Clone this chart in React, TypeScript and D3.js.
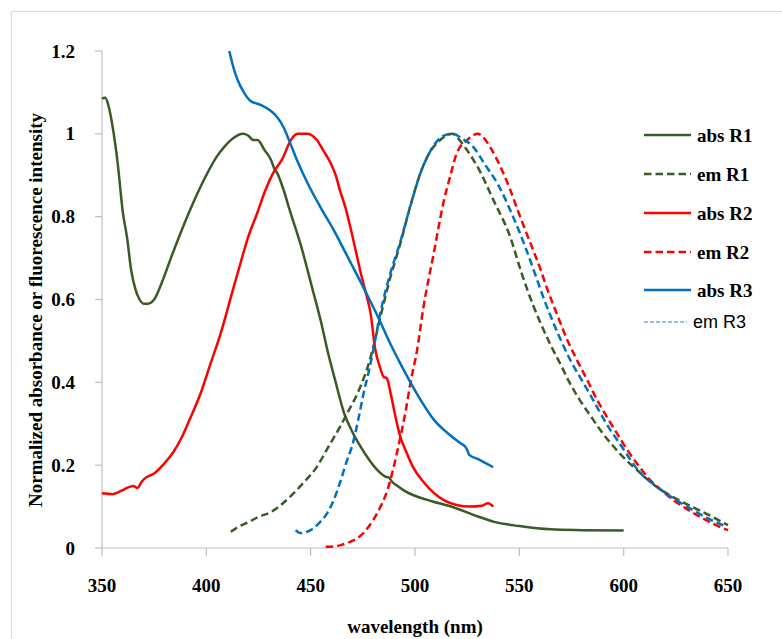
import React from 'react';
import * as d3 from 'd3';

// wavelength (nm), normalized value
const absR1: [number, number][] = [
  [350, 1.085], [351.5, 1.087], [353, 1.07], [355, 1.02], [357.5, 0.93], [360, 0.81], [362, 0.75],
  [364, 0.67], [366, 0.625], [368, 0.6], [370, 0.59], [372, 0.59], [375, 0.6], [379, 0.645],
  [383, 0.7], [388, 0.765], [392.5, 0.82], [397, 0.87], [401, 0.91], [405, 0.945], [408.5, 0.968],
  [413, 0.99], [417.5, 1.0], [420, 0.996], [422.5, 0.985], [424.5, 0.985], [428, 0.96], [431, 0.937],
  [432.5, 0.917], [434, 0.905], [437, 0.865], [440, 0.815], [445, 0.736], [451.4, 0.615], [455, 0.545],
  [458, 0.478], [462, 0.4], [466, 0.326], [470, 0.28], [474, 0.244], [478, 0.213], [482, 0.188],
  [486, 0.172], [487.5, 0.17], [489, 0.16], [491, 0.152], [495, 0.138], [499, 0.128], [508, 0.113],
  [518, 0.099], [528, 0.08], [538, 0.063], [550, 0.053], [565, 0.045], [580, 0.043], [600, 0.042],
];

const emR1: [number, number][] = [
  [411.7, 0.039], [415, 0.05], [420, 0.062], [425, 0.075], [431, 0.087], [436, 0.105], [442, 0.133],
  [447, 0.16], [453, 0.196], [458, 0.24], [464, 0.292], [468, 0.33], [472.5, 0.374], [478.7, 0.46],
  [483.5, 0.56], [488, 0.65], [493, 0.736], [498, 0.83], [502.6, 0.905], [507, 0.955], [511, 0.98],
  [515.5, 0.997], [518, 1.0], [520, 0.992], [525, 0.96], [530, 0.92], [537.6, 0.84], [545.7, 0.75],
  [551, 0.665], [556.7, 0.585], [560, 0.545], [565, 0.49], [569.6, 0.445], [574, 0.4], [579, 0.357],
  [584, 0.32], [588.8, 0.285], [598, 0.229], [608, 0.181], [616, 0.147], [627, 0.114], [640, 0.082],
  [650, 0.055],
];

const absR2: [number, number][] = [
  [350, 0.132], [355, 0.13], [358, 0.135], [360, 0.14], [362, 0.145], [365, 0.15], [367, 0.145],
  [369, 0.16], [371, 0.17], [375, 0.18], [380, 0.205], [384, 0.23], [388, 0.265], [392, 0.31],
  [397, 0.37], [402, 0.445], [407, 0.52], [412, 0.61], [416.5, 0.69], [420, 0.75], [424.5, 0.81],
  [428, 0.86], [432, 0.905], [436.5, 0.94], [440, 0.98], [442, 0.995], [444, 1.0], [448.5, 1.0],
  [451, 0.995], [453, 0.985], [456, 0.96], [459.5, 0.93], [462, 0.9], [464, 0.864], [466.5, 0.825],
  [469, 0.775], [471.5, 0.72], [474, 0.664], [476.5, 0.615], [478.7, 0.567], [481, 0.478],
  [483, 0.44], [485, 0.413], [486.5, 0.41], [488.3, 0.374], [490.5, 0.32], [493, 0.268], [496, 0.23],
  [499, 0.196], [504, 0.16], [509, 0.133], [514, 0.115], [520, 0.104], [526, 0.1], [532, 0.102],
  [535, 0.108], [537.5, 0.1],
];

const emR2: [number, number][] = [
  [457.2, 0.003], [461, 0.004], [464.4, 0.007], [468, 0.013], [472.5, 0.024], [476, 0.04], [480, 0.068],
  [483.5, 0.1], [486.8, 0.14], [490, 0.2], [493, 0.268], [495.5, 0.33], [497.8, 0.398], [501, 0.478],
  [504, 0.58], [509, 0.712], [513.6, 0.833], [517, 0.9], [520, 0.953], [525, 0.985], [528, 0.997],
  [530, 1.0], [533, 0.99], [536, 0.968], [541, 0.92], [545.7, 0.864], [550, 0.805], [555, 0.74],
  [560, 0.675], [563.4, 0.625], [568, 0.565], [573, 0.502], [578, 0.45], [582.5, 0.406], [587, 0.36],
  [592, 0.316], [597, 0.275], [601.7, 0.237], [607, 0.2], [612.7, 0.164], [618, 0.14], [623.7, 0.116],
  [630, 0.095], [636.6, 0.075], [643, 0.058], [650, 0.043],
];

const absR3: [number, number][] = [
  [411, 1.2], [413, 1.16], [415, 1.13], [418, 1.1], [421, 1.08], [426, 1.07], [431, 1.055], [434, 1.04],
  [437, 1.016], [440, 0.98], [444, 0.93], [448.6, 0.88], [455, 0.82], [461, 0.768], [466, 0.72],
  [470.6, 0.675], [477, 0.612], [483, 0.55], [488, 0.495], [493, 0.445], [497.8, 0.4], [503, 0.355],
  [509, 0.31], [515, 0.28], [521.8, 0.253], [524, 0.245], [525, 0.237], [526, 0.225], [530, 0.215],
  [537.5, 0.195],
];

const emR3: [number, number][] = [
  [442.8, 0.043], [445, 0.036], [450, 0.043], [454, 0.06], [458, 0.085], [461, 0.115], [464, 0.157],
  [467, 0.205], [470.6, 0.26], [473, 0.315], [475.4, 0.374], [478, 0.43], [480, 0.478], [483.5, 0.57],
  [488, 0.66], [493, 0.74], [498, 0.83], [502.6, 0.905], [507, 0.955], [511, 0.985], [515, 0.998],
  [518.4, 1.0], [522, 0.99], [528, 0.968], [533, 0.93], [539.5, 0.88], [547, 0.8], [553, 0.725],
  [558, 0.655], [561.5, 0.605], [565, 0.56], [569.6, 0.505], [574, 0.458], [579, 0.413], [584, 0.37],
  [588.8, 0.326], [593, 0.29], [598, 0.253], [603, 0.215], [608, 0.181], [614, 0.155], [620.8, 0.13],
  [627, 0.11], [633, 0.092], [641, 0.07], [649.5, 0.051],
];

const xTicks = [350, 400, 450, 500, 550, 600, 650];
const yTicks = [0, 0.2, 0.4, 0.6, 0.8, 1, 1.2];

const series = [
  { name: 'abs R1', data: absR1, color: '#3b5a27', dash: null },
  { name: 'em R1', data: emR1, color: '#3b5a27', dash: '7.5,4' },
  { name: 'abs R2', data: absR2, color: '#ff0000', dash: null },
  { name: 'em R2', data: emR2, color: '#ff0000', dash: '7.5,4' },
  { name: 'abs R3', data: absR3, color: '#0070c0', dash: null },
  { name: 'em R3', data: emR3, color: '#0070c0', dash: '7.5,4' },
];

const serif = '"Liberation Serif", "Times New Roman", serif';

export default function App() {
  const W = 782;
  const H = 639;
  const x = d3.scaleLinear().domain([350, 650]).range([102, 728]);
  const y = d3.scaleLinear().domain([0, 1.2]).range([548, 51]);
  const line = d3.line<[number, number]>()
    .x(d => x(d[0]))
    .y(d => y(d[1]))
    .curve(d3.curveMonotoneX);

  const axisColor = '#bfbfbf';
  const legendY = [135, 174, 213, 252, 290, 322];

  return (
    <svg width={W} height={H} style={{ position: 'absolute', left: 0, top: 0, background: '#fff' }}>
      <rect x={11.5} y={11.5} width={W} height={H} fill="#fff" stroke="#d9d9d9" />

      {/* axes */}
      <line x1={x(350)} x2={x(350)} y1={y(1.2)} y2={y(0)} stroke={axisColor} strokeWidth={1.2} />
      <line x1={x(350)} x2={x(650)} y1={y(0)} y2={y(0)} stroke={axisColor} strokeWidth={1.2} />
      {yTicks.map(t => (
        <g key={'y' + t}>
          <line x1={x(350) - 7} x2={x(350)} y1={y(t)} y2={y(t)} stroke={axisColor} strokeWidth={1.2} />
          <text x={75} y={y(t)} dy="0.35em" textAnchor="end" fontFamily={serif} fontWeight="bold" fontSize={19}>
            {t}
          </text>
        </g>
      ))}
      {xTicks.map(t => (
        <g key={'x' + t}>
          <line x1={x(t)} x2={x(t)} y1={y(0)} y2={y(0) + 8} stroke={axisColor} strokeWidth={1.2} />
          <text x={x(t)} y={592} textAnchor="middle" fontFamily={serif} fontWeight="bold" fontSize={19}>
            {t}
          </text>
        </g>
      ))}

      <text x={415} y={633} textAnchor="middle" fontFamily={serif} fontWeight="bold" fontSize={19}>
        wavelength (nm)
      </text>
      <text
        transform="translate(42,310) rotate(-90)"
        textAnchor="middle"
        fontFamily={serif}
        fontWeight="bold"
        fontSize={19}
      >
        Normalized absorbance or fluorescence intensity
      </text>

      {/* curves */}
      {series.map(s => (
        <path
          key={s.name}
          d={line(s.data) || ''}
          fill="none"
          stroke={s.color}
          strokeWidth={2.5}
          strokeDasharray={s.dash || undefined}
        />
      ))}

      {/* legend */}
      {series.map((s, i) => {
        const last = i === series.length - 1;
        return (
          <g key={'lg' + s.name}>
            <line
              x1={644}
              x2={last ? 687 : 691}
              y1={legendY[i]}
              y2={legendY[i]}
              stroke={last ? '#4472c4' : s.color}
              strokeWidth={last ? 1 : 2.5}
              strokeDasharray={last ? '4,2' : s.dash || undefined}
            />
            <text
              x={last ? 693 : 697}
              y={legendY[i]}
              dy="0.35em"
              fontFamily={last ? '"Liberation Sans", Arial, sans-serif' : serif}
              fontWeight={last ? 'normal' : 'bold'}
              fontSize={last ? 18 : 19}
            >
              {s.name}
            </text>
          </g>
        );
      })}
    </svg>
  );
}
